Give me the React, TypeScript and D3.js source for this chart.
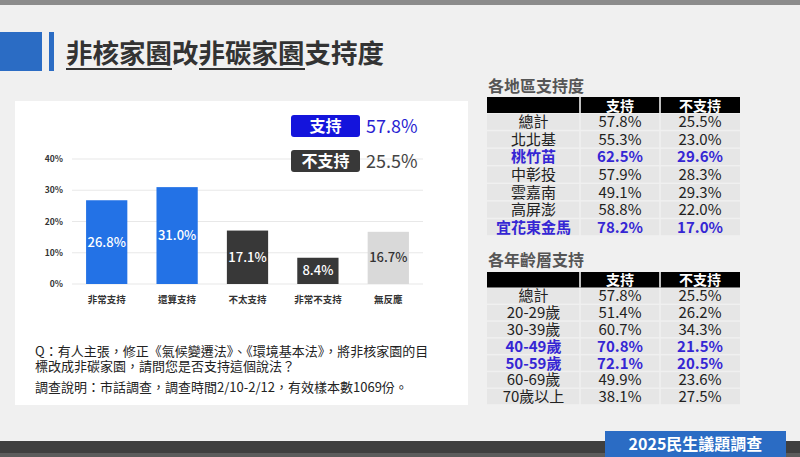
import React from "react";
import * as d3 from "d3";

const categories = ["非常支持", "還算支持", "不太支持", "非常不支持", "無反應"];
const values = [26.8, 31.0, 17.1, 8.4, 16.7];
const groups = ["support", "support", "oppose", "oppose", "none"];
const yTicks = [0, 10, 20, 30, 40];

const totalLabels = ["支持", "不支持"];
const totalValues = [57.8, 25.5];

const tableHeaders = ["支持", "不支持"];
const regionNames = ["總計", "北北基", "桃竹苗", "中彰投", "雲嘉南", "高屏澎", "宜花東金馬"];
const regionSupport = [57.8, 55.3, 62.5, 57.9, 49.1, 58.8, 78.2];
const regionOppose = [25.5, 23.0, 29.6, 28.3, 29.3, 22.0, 17.0];
const regionHighlight = [false, false, true, false, false, false, true];

const ageNames = ["總計", "20-29歲", "30-39歲", "40-49歲", "50-59歲", "60-69歲", "70歲以上"];
const ageSupport = [57.8, 51.4, 60.7, 70.8, 72.1, 49.9, 38.1];
const ageOppose = [25.5, 26.2, 34.3, 21.5, 20.5, 23.6, 27.5];
const ageHighlight = [false, false, false, true, true, false, false];

const FONT = "'Noto Sans CJK TC', 'Noto Sans', sans-serif";
const BAR_COLORS: Record<string, string> = { support: "#2372e6", oppose: "#383838", none: "#d9d9d9" };
const HL = "#3526d4";

function Table({ title, names, a, b, hl, titleY, top, headH, bottom }: any) {
  const x0 = 487, c1 = 580, c2 = 660, x1 = 740;
  const y = d3.scaleBand<number>().domain(d3.range(names.length)).range([top + headH, bottom]);
  const fmt = (v: number) => v.toFixed(1) + "%";
  return (
    <g fontFamily={FONT}>
      <text x={488} y={titleY} fontSize={16} fontWeight={700} fill="#555">{title}</text>
      <rect x={x0} y={top} width={x1 - x0} height={headH} fill="#000" />
      <line x1={c1} x2={c1} y1={top} y2={top + headH} stroke="#fff" strokeWidth={1.5} />
      <line x1={c2} x2={c2} y1={top} y2={top + headH} stroke="#fff" strokeWidth={1.5} />
      <text x={(c1 + c2) / 2} y={top + headH / 2 + 5.5} fontSize={14} fontWeight={700} fill="#fff" textAnchor="middle">{tableHeaders[0]}</text>
      <text x={(c2 + x1) / 2} y={top + headH / 2 + 5.5} fontSize={14} fontWeight={700} fill="#fff" textAnchor="middle">{tableHeaders[1]}</text>
      {names.map((n: string, i: number) => {
        const yy = y(i)!;
        const h = y.bandwidth();
        const col = hl[i] ? HL : "#222";
        const fw = hl[i] ? 700 : 400;
        return (
          <g key={i}>
            <rect x={x0} y={yy + 0.75} width={c1 - x0 - 0.75} height={h - 1.5} fill="#e6e6e6" />
            <rect x={c1 + 0.75} y={yy + 0.75} width={c2 - c1 - 1.5} height={h - 1.5} fill="#e6e6e6" />
            <rect x={c2 + 0.75} y={yy + 0.75} width={x1 - c2 - 0.75} height={h - 1.5} fill="#e6e6e6" />
            <text x={(x0 + c1) / 2} y={yy + h / 2 + 5.5} fontSize={15} fontWeight={fw} fill={col} textAnchor="middle">{n}</text>
            <text x={(c1 + c2) / 2} y={yy + h / 2 + 5.5} fontSize={15} fontWeight={fw} fill={col} textAnchor="middle">{fmt(a[i])}</text>
            <text x={(c2 + x1) / 2} y={yy + h / 2 + 5.5} fontSize={15} fontWeight={fw} fill={col} textAnchor="middle">{fmt(b[i])}</text>
          </g>
        );
      })}
    </g>
  );
}

export default function App() {
  const x = d3.scaleBand<string>().domain(categories).range([72, 423]).paddingInner(0.414).paddingOuter(0.2);
  const y = d3.scaleLinear().domain([0, 40]).range([284, 159]);
  return (
    <svg width={800} height={457} style={{ position: "absolute", left: 0, top: 0 }} fontFamily={FONT}>
      <rect width={800} height={457} fill="#f0f0f0" />
      <rect width={800} height={5} fill="#8c8c8c" />
      {/* title */}
      <rect x={0} y={32} width={42} height={39} fill="#2b6cc4" />
      <rect x={49} y={32} width={5} height={39} fill="#2b6cc4" />
      <text x={66} y={63} fontSize={26.5} fontWeight={700} fill="#333">非核家園改非碳家園支持度</text>
      <rect x={66} y={68} width={106} height={2} fill="#333" />
      <rect x={199} y={68} width={106} height={2} fill="#333" />

      {/* chart panel */}
      <rect x={15} y={101} width={453} height={304} fill="#fff" />
      {yTicks.map((t) => (
        <g key={t}>
          <line x1={72} x2={423} y1={y(t)} y2={y(t)} stroke="#e8e8e8" strokeWidth={1.2} />
          <text x={63} y={y(t) + 3} fontSize={8.5} fontWeight={700} fill="#333" textAnchor="end">{t}%</text>
        </g>
      ))}
      {categories.map((c, i) => {
        const bx = x(c)!;
        const top = y(values[i]);
        return (
          <g key={c}>
            <rect x={bx} y={top} width={x.bandwidth()} height={y(0) - top} fill={BAR_COLORS[groups[i]]} />
            <text x={bx + x.bandwidth() / 2} y={(top + y(0)) / 2 + 4.5} fontSize={13} fontWeight={500}
              fill={groups[i] === "none" ? "#333" : "#fff"} textAnchor="middle">{values[i].toFixed(1)}%</text>
            <text x={bx + x.bandwidth() / 2} y={303} fontSize={9.5} fontWeight={700} fill="#333" textAnchor="middle">{c}</text>
          </g>
        );
      })}
      {/* legend */}
      {totalLabels.map((l, i) => {
        const ly = i === 0 ? 115 : 150;
        const bg = i === 0 ? "#1414dc" : "#383838";
        const fc = i === 0 ? "#2a1fd2" : "#444";
        return (
          <g key={l}>
            <rect x={291} y={ly} width={69} height={22} rx={3} fill={bg} />
            <text x={325.5} y={ly + 17} fontSize={16} fontWeight={700} fill="#fff" textAnchor="middle">{l}</text>
            <text x={366} y={ly + 18} fontSize={18} fill={fc}>{totalValues[i].toFixed(1)}%</text>
          </g>
        );
      })}
      {/* question */}
      <text x={35} y={356} fontSize={13} fill="#222">Q：有人主張，修正《氣候變遷法》、《環境基本法》，將非核家園的目</text>
      <text x={35} y={371} fontSize={13} fill="#222">標改成非碳家園，請問您是否支持這個說法？</text>
      <text x={35} y={392} fontSize={13} fill="#222">調查說明：市話調查，調查時間2/10-2/12，有效樣本數1069份。</text>

      {/* tables */}
      <Table title="各地區支持度" names={regionNames} a={regionSupport} b={regionOppose} hl={regionHighlight}
        titleY={92} top={97} headH={16} bottom={236} />
      <Table title="各年齡層支持" names={ageNames} a={ageSupport} b={ageOppose} hl={ageHighlight}
        titleY={266} top={272} headH={15.5} bottom={405} />

      {/* footer */}
      <rect x={0} y={441} width={800} height={12} fill="#3f3f3f" />
      <rect x={0} y={453} width={800} height={4} fill="#5c5c5c" />
      <rect x={605} y={431} width={181} height={26} fill="#2b6cc4" />
      <text x={695.5} y={450} fontSize={16} fontWeight={700} fill="#fff" textAnchor="middle">2025民生議題調查</text>
    </svg>
  );
}
